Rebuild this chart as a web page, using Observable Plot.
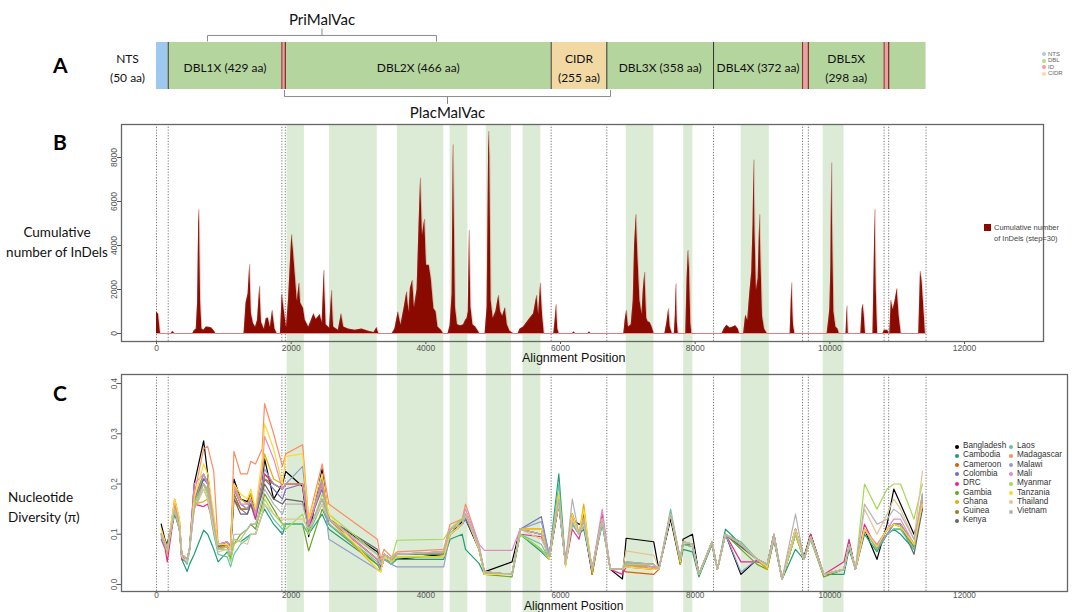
<!DOCTYPE html>
<html><head><meta charset="utf-8">
<script src="https://cdn.jsdelivr.net/npm/d3@7"></script>
<script src="https://cdn.jsdelivr.net/npm/@observablehq/plot@0.6"></script>
<style>
body{margin:0;background:#fff;}
#wrap{position:relative;width:1077px;height:612px;overflow:hidden;background:#fff;font-family:"Liberation Sans",Arial,sans-serif;}
.t{position:absolute;white-space:nowrap;}
</style></head><body><div id="wrap"></div>
<script>
// ---------- Panel A : domain architecture ----------
const domNames = ["NTS","DBL1X","ID","DBL2X","CIDR","DBL3X","DBL4X","ID","DBL5X","ID","DBL"];
const domType  = ["NTS","DBL","ID","DBL","CIDR","DBL","DBL","ID","DBL","ID","DBL"];
const domStart = [0,174,1862,1913,5861,6688,8273,9595,9681,10806,10874];
const domEnd   = [174,1862,1913,5861,6688,8273,9595,9681,10806,10874,11429];
const domLabel = ["NTS\n(50 aa)","DBL1X (429 aa)","","DBL2X (466 aa)","CIDR\n(255 aa)","DBL3X (358 aa)","DBL4X (372 aa)","","DBL5X\n(298 aa)","",""];
const typeNames  = ["NTS","DBL","ID","CIDR"];
const typeColors = ["#9dc8f0","#b5d59f","#e6a3a3","#f2d9a3"];
const legendDotColors = ["#a6cee3","#b2df8a","#fb9a99","#fdd9a0"];
const bracketNames = ["PriMalVac","PlacMalVac"];
const bracketFrom  = [757,1901];
const bracketTo    = [4158,6743];
const bracketSide  = ["top","bottom"];

// ---------- Panel B : cumulative InDels (step=30) ----------
const bPos = [0,30,60,220,240,270,540,560,590,610,629,640,655,675,700,740,780,820,860,880,
1300,1330,1360,1385,1410,1440,1470,1500,1534,1560,1600,1630,1660,1690,1723,1760,1790,1840,1866,1900,
1930,1960,2009,2030,2060,2090,2122,2140,2183,2210,2260,2300,2337,2370,2400,2430,2460,2490,2520,2570,
2603,2630,2700,2746,2780,2850,2950,3050,3150,3230,3273,3300,3500,3540,3590,3630,3680,3718,3750,3770,
3804,3830,3870,3900,3922,3950,3984,4010,4050,4080,4120,4152,4180,4230,4260,4330,4360,4390,4408,4420,
4440,4470,4520,4560,4590,4612,4630,4648,4670,4700,4740,4780,4800,4880,4910,4935,4950,4970,5000,5040,
5083,5110,5140,5180,5210,5250,5300,5370,5400,5450,5500,5550,5600,5650,5675,5705,5735,5760,5900,5920,
5940,5960,5980,6180,6200,6220,6410,6430,6450,6940,6960,6982,7010,7050,7080,7100,7125,7150,7180,7210,
7230,7253,7280,7300,7330,7360,7390,7550,7580,7607,7630,7660,7690,7705,7719,7735,7750,7860,7880,7898,
7915,7935,7950,8400,8430,8470,8520,8560,8600,8640,8660,8720,8750,8780,8810,8840,8860,8874,8890,8910,
8935,8961,8980,9000,9030,9070,9410,9436,9460,9480,9960,9990,10000,10015,10028,10040,10060,10090,10120,10140,
10240,10258,10275,10460,10480,10493,10510,10530,10640,10655,10672,10690,10710,10790,10810,10860,10880,10890,10912,10940,
10970,11000,11030,11060,11320,11346,11370,11400,11420];
const bVal = [980,880,0,0,100,0,0,120,200,1400,5640,5000,1500,200,150,300,280,250,100,0,
0,1400,1800,3150,900,450,300,600,2170,500,200,680,700,300,1060,200,0,0,1800,1000,
300,1500,4500,3900,2700,1500,2300,1400,1140,600,300,600,900,650,750,860,500,2880,400,250,
1970,300,150,900,300,200,150,200,100,50,270,0,0,200,985,400,1200,1900,1000,2050,
2420,1200,2000,5000,7080,4500,5200,3100,3100,2500,1130,985,300,150,0,0,350,1800,8590,6000,
1200,400,350,400,600,680,1000,4700,1200,400,300,100,0,0,1200,9200,8100,1500,700,1000,
1740,1000,800,1170,400,100,0,0,200,300,500,700,900,1740,900,2300,800,0,0,600,
1320,200,0,0,75,0,0,75,0,0,600,1060,300,400,1500,4000,5420,3500,1500,900,
2000,2800,700,530,500,300,0,0,500,1140,300,0,0,800,2270,500,0,0,2500,3790,
3000,500,0,0,200,380,250,300,350,200,0,0,830,600,1800,2800,5000,7900,4500,2000,
2500,5420,3000,800,200,0,0,2320,400,0,0,800,1140,3000,7770,5000,1000,300,200,0,
0,1260,0,0,1100,1330,900,0,0,2500,5650,2000,0,0,150,150,0,0,1515,1100,
1500,2045,800,0,0,2830,2400,1000,0];
const bTicks = [0,2000,4000,6000,8000];

// ---------- shared x axis ----------
const xTicks = [0,2000,4000,6000,8000,10000,12000];
const boundaries = [0,174,1862,1913,5861,6688,8273,9595,9681,10806,10874,11429];
const bandStart = [1940,2570,3577,4361,4898,5443,6977,7830,8683,9902];
const bandEnd   = [2196,3278,4267,4625,5272,5708,7387,7966,9101,10210];

// ---------- Panel C : nucleotide diversity ----------
const countries = ["Bangladesh","Cambodia","Cameroon","Colombia","DRC","Gambia","Ghana","Guinea","Kenya",
                   "Laos","Madagascar","Malawi","Mali","Myanmar","Tanzania","Thailand","Vietnam"];
const cColors = ["#000000","#1b9e77","#d95f02","#7570b3","#e7298a","#66a61e","#e6ab02","#a6761d","#666666",
                 "#66c2a5","#fc8d62","#8da0cb","#e78ac3","#a6d854","#ffd92f","#e5c494","#b3b3b3"];
const cPos = [70,130,160,270,340,375,455,490,560,700,
 760,850,915,1050,1100,1150,1250,1350,1400,1470,
 1570,1605,1740,1870,1920,2170,2260,2460,2560,3280,
 3330,3380,3490,3570,4265,4360,4540,4590,4790,4870,
 5280,5400,5715,5830,5975,6075,6175,6275,6345,6470,
 6620,6740,6920,6975,7385,7460,7635,7780,7820,7960,
 8055,8250,8330,8450,8680,8920,9070,9170,9290,9490,
 9615,9715,9910,10210,10285,10380,10515,10700,10850,10950,
 11050,11250,11375];
const cTicks = [0,0.1,0.2,0.3,0.4];
const piBangladesh = [.12,.087,.08,.15,.12,.06,.05,.07,.2,.286,
 .22,.12,.07,.08,.08,.21,.17,.165,.18,.14,
 .2,.25,.17,.2,.225,.195,.095,.23,.13,.065,
 .04,.06,.05,.05,.06,.1,.125,.13,.07,.025,
 .045,.11,.1,.05,.16,.04,.13,.12,.12,.02,
 .13,.03,.011,.092,.085,.03,.13,.04,.09,.1,
 .02,.08,.03,.1,.02,.05,.04,.1,.01,.11,
 .055,.1,.02,.03,.085,.03,.11,.05,.12,.19,
 .16,.1,.15];
const piCambodia = [.1,.08,.07,.14,.11,.05,.026,.04,.06,.108,
 .1,.07,.045,.065,.05,.09,.085,.095,.1,.1,
 .14,.15,.12,.1,.12,.12,.1,.14,.11,.04,
 .03,.05,.04,.05,.05,.09,.1,.07,.042,.02,
 .02,.1,.065,.05,.22,.04,.12,.1,.11,.03,
 .12,.03,.03,.04,.03,.03,.14,.04,.07,.065,
 .015,.08,.03,.11,.08,.05,.03,.09,.01,.07,
 .05,.09,.02,.02,.07,.03,.1,.065,.1,.11,
 .1,.07,.18];
const piCameroon = [.1,.08,.065,.16,.12,.06,.05,.07,.17,.2,
 .19,.13,.07,.08,.07,.17,.15,.15,.17,.14,
 .19,.22,.2,.19,.2,.2,.12,.2,.13,.05,
 .04,.06,.05,.06,.06,.11,.12,.14,.07,.025,
 .02,.11,.1,.055,.17,.04,.14,.1,.14,.03,
 .13,.03,.03,.025,.02,.03,.14,.045,.085,.08,
 .02,.085,.03,.1,.08,.05,.035,.095,.01,.1,
 .05,.095,.02,.03,.08,.03,.11,.075,.11,.12,
 .115,.08,.16];
const piColombia = [.1,.085,.07,.15,.12,.055,.05,.07,.16,.21,
 .2,.13,.075,.085,.07,.18,.15,.14,.16,.13,
 .19,.21,.19,.17,.19,.2,.12,.19,.12,.04,
 .03,.055,.045,.06,.06,.1,.12,.13,.075,.02,
 .02,.11,.135,.06,.16,.05,.14,.1,.13,.03,
 .13,.03,.03,.04,.04,.03,.14,.05,.085,.08,
 .02,.085,.03,.1,.075,.05,.035,.09,.01,.11,
 .05,.095,.02,.03,.08,.03,.11,.075,.11,.12,
 .12,.08,.16];
const piDRC = [.09,.07,.045,.15,.11,.05,.045,.07,.16,.155,
 .16,.12,.07,.08,.07,.19,.16,.15,.16,.13,
 .2,.22,.2,.19,.2,.2,.11,.21,.13,.05,
 .035,.06,.05,.06,.06,.11,.12,.14,.07,.02,
 .02,.1,.095,.06,.17,.04,.11,.09,.13,.03,
 .14,.03,.02,.035,.03,.03,.14,.05,.08,.075,
 .02,.085,.03,.1,.045,.045,.04,.1,.01,.1,
 .05,.1,.02,.045,.09,.03,.12,.07,.1,.12,
 .12,.075,.16];
const piGambia = [.1,.08,.065,.15,.11,.06,.05,.07,.16,.2,
 .18,.11,.07,.075,.05,.08,.1,.11,.12,.11,
 .16,.18,.15,.12,.12,.12,.067,.15,.12,.04,
 .03,.05,.045,.06,.06,.11,.13,.14,.07,.02,
 .015,.1,.07,.05,.16,.04,.13,.1,.12,.03,
 .13,.03,.03,.045,.04,.03,.14,.05,.08,.08,
 .02,.08,.03,.1,.07,.04,.03,.09,.01,.1,
 .05,.09,.015,.03,.08,.03,.11,.07,.1,.11,
 .11,.075,.17];
const piGhana = [.1,.075,.065,.17,.13,.06,.05,.07,.16,.165,
 .17,.12,.07,.08,.07,.2,.17,.16,.18,.15,
 .22,.26,.21,.2,.2,.2,.12,.2,.13,.03,
 .025,.06,.05,.055,.055,.1,.12,.14,.07,.02,
 .02,.11,.11,.05,.18,.04,.14,.1,.16,.02,
 .13,.03,.03,.04,.03,.03,.14,.04,.085,.08,
 .02,.085,.03,.1,.08,.05,.03,.095,.01,.11,
 .05,.095,.02,.03,.08,.03,.11,.07,.11,.12,
 .115,.08,.16];
const piGuinea = [.1,.08,.07,.16,.12,.06,.05,.07,.17,.22,
 .2,.13,.08,.085,.075,.18,.15,.15,.16,.14,
 .19,.21,.2,.19,.2,.2,.12,.2,.13,.05,
 .04,.06,.05,.06,.065,.1,.12,.14,.07,.025,
 .02,.11,.11,.055,.17,.04,.14,.1,.13,.03,
 .13,.03,.03,.04,.035,.03,.14,.045,.085,.08,
 .02,.085,.03,.1,.08,.05,.04,.1,.01,.11,
 .05,.095,.02,.03,.08,.03,.11,.075,.11,.12,
 .12,.08,.17];
const piKenya = [.1,.08,.07,.15,.12,.06,.05,.07,.17,.21,
 .21,.13,.075,.08,.07,.17,.14,.14,.16,.14,
 .18,.2,.17,.16,.17,.165,.11,.17,.13,.07,
 .04,.06,.05,.06,.065,.11,.12,.14,.075,.025,
 .02,.11,.1,.055,.16,.04,.13,.1,.12,.03,
 .13,.03,.03,.04,.04,.03,.14,.045,.085,.08,
 .02,.085,.03,.1,.075,.05,.04,.095,.01,.11,
 .05,.095,.02,.03,.08,.03,.11,.075,.11,.12,
 .12,.06,.15];
const piLaos = [.095,.075,.065,.15,.11,.055,.04,.065,.15,.19,
 .17,.1,.06,.055,.035,.06,.08,.09,.1,.1,
 .14,.16,.13,.11,.12,.12,.1,.16,.12,.045,
 .03,.05,.04,.055,.055,.1,.12,.14,.07,.02,
 .02,.1,.08,.05,.2,.04,.12,.1,.12,.03,
 .12,.03,.03,.04,.035,.03,.15,.05,.08,.075,
 .02,.08,.03,.1,.085,.05,.035,.09,.01,.1,
 .05,.09,.02,.03,.08,.03,.11,.07,.1,.11,
 .11,.07,.17];
const piMadagascar = [.1,.08,.06,.16,.12,.06,.05,.07,.18,.27,
 .275,.225,.08,.085,.07,.265,.22,.22,.245,.24,
 .27,.36,.3,.235,.26,.278,.13,.24,.16,.09,
 .05,.07,.055,.065,.07,.12,.13,.16,.08,.025,
 .02,.11,.1,.055,.17,.04,.14,.1,.13,.03,
 .13,.03,.03,.04,.035,.03,.14,.05,.085,.08,
 .02,.085,.03,.1,.08,.05,.04,.095,.01,.11,
 .05,.095,.02,.03,.08,.03,.11,.075,.11,.12,
 .12,.08,.17];
const piMalawi = [.1,.08,.07,.15,.12,.06,.05,.07,.16,.22,
 .2,.13,.08,.085,.075,.19,.16,.15,.17,.14,
 .2,.23,.2,.19,.2,.235,.12,.21,.09,.03,
 .03,.05,.04,.035,.035,.1,.12,.14,.07,.02,
 .02,.11,.125,.06,.17,.04,.13,.1,.13,.03,
 .13,.03,.03,.04,.04,.03,.14,.05,.085,.08,
 .02,.085,.03,.1,.025,.05,.04,.09,.01,.11,
 .05,.095,.02,.03,.08,.03,.11,.075,.1,.12,
 .12,.08,.16];
const piMali = [.1,.08,.065,.17,.13,.06,.05,.07,.2,.22,
 .2,.13,.08,.085,.07,.2,.16,.16,.17,.14,
 .23,.295,.25,.19,.2,.2,.12,.2,.13,.05,
 .04,.06,.05,.06,.065,.11,.13,.15,.08,.068,
 .068,.11,.1,.055,.17,.04,.13,.1,.13,.03,
 .15,.03,.03,.04,.035,.03,.14,.05,.085,.08,
 .02,.085,.03,.1,.08,.05,.04,.095,.01,.11,
 .05,.095,.02,.03,.08,.03,.11,.08,.11,.13,
 .13,.08,.17];
const piMyanmar = [.1,.08,.065,.15,.11,.06,.05,.07,.16,.2,
 .18,.11,.07,.07,.045,.08,.09,.11,.12,.12,
 .15,.17,.14,.12,.11,.14,.1,.18,.14,.06,
 .04,.06,.05,.088,.09,.11,.13,.14,.075,.02,
 .02,.1,.07,.05,.17,.04,.13,.1,.13,.03,
 .13,.03,.03,.04,.04,.03,.14,.05,.085,.08,
 .02,.085,.03,.1,.08,.05,.04,.095,.01,.1,
 .05,.09,.02,.03,.08,.03,.2,.15,.19,.2,
 .2,.13,.2];
const piTanzania = [.11,.085,.07,.17,.13,.06,.05,.07,.17,.24,
 .22,.14,.08,.08,.07,.2,.18,.17,.19,.15,
 .25,.32,.27,.2,.255,.26,.13,.22,.14,.03,
 .025,.055,.045,.055,.055,.1,.12,.14,.07,.02,
 .02,.11,.11,.05,.18,.035,.14,.1,.15,.03,
 .13,.03,.03,.035,.03,.03,.14,.045,.085,.08,
 .02,.085,.03,.1,.08,.05,.035,.1,.01,.11,
 .05,.095,.02,.03,.08,.03,.11,.075,.11,.12,
 .115,.08,.16];
const piThailand = [.1,.08,.07,.15,.11,.055,.045,.07,.15,.19,
 .17,.11,.065,.07,.06,.09,.085,.08,.1,.1,
 .14,.16,.14,.13,.13,.13,.11,.16,.13,.06,
 .04,.06,.05,.06,.065,.11,.12,.14,.075,.025,
 .02,.11,.09,.055,.16,.04,.13,.1,.12,.03,
 .13,.03,.03,.067,.058,.03,.14,.05,.085,.08,
 .02,.085,.03,.1,.08,.05,.04,.095,.01,.11,
 .05,.095,.02,.03,.08,.03,.15,.1,.14,.17,
 .15,.09,.225];
const piVietnam = [.1,.08,.07,.15,.11,.06,.05,.07,.15,.2,
 .19,.12,.07,.075,.06,.1,.1,.11,.12,.12,
 .17,.19,.16,.14,.16,.16,.11,.17,.13,.06,
 .04,.06,.05,.06,.065,.11,.12,.14,.075,.025,
 .02,.11,.1,.055,.17,.045,.17,.1,.13,.03,
 .13,.03,.03,.045,.04,.03,.14,.05,.085,.08,
 .02,.085,.03,.1,.08,.05,.04,.1,.01,.14,
 .05,.095,.02,.03,.08,.03,.16,.12,.13,.15,
 .14,.09,.18];
const piSeries = [piBangladesh,piCambodia,piCameroon,piColombia,piDRC,piGambia,piGhana,piGuinea,piKenya,
 piLaos,piMadagascar,piMalawi,piMali,piMyanmar,piTanzania,piThailand,piVietnam];

// ================= drawing =================
const wrap = document.getElementById("wrap");
const PX0 = 156, PXPER = 808/12000;            // pixel of position 0, px per alignment unit
const dom = (l, r) => [(l - PX0) / PXPER, (r - PX0) / PXPER];
const LEFT = 121, RIGHT_B = 1043, RIGHT_C = 1067;
function put(node, top, z) {
  node.style.position = "absolute"; node.style.left = "0px"; node.style.top = top + "px";
  node.style.zIndex = z; wrap.appendChild(node); return node;
}
function txt(s, x, y, css) {
  const d = document.createElement("div"); d.className = "t"; d.textContent = s;
  d.style.left = x + "px"; d.style.top = y + "px"; Object.assign(d.style, css || {});
  d.style.zIndex = 5; wrap.appendChild(d); return d;
}
const fmt = d => String(d);
const transparent = {background: "transparent", overflow: "visible"};

// green bands spanning panels B and C
const bands = bandStart.map((s, i) => ({s, e: bandEnd[i]}));
put(Plot.plot({
  width: 1077, height: 488, marginLeft: LEFT, marginRight: 1077 - RIGHT_B, marginTop: 0, marginBottom: 0,
  style: transparent,
  x: {domain: dom(LEFT, RIGHT_B), axis: null},
  y: {domain: [0, 1], axis: null},
  marks: [Plot.rect(bands, {x1: "s", x2: "e", y1: () => 0, y2: () => 1, fill: "#dcebd5"})]
}), 124, 1);

// Panel A
const doms = domNames.map((n, i) => ({n, type: domType[i], s: domStart[i], e: domEnd[i], label: domLabel[i], mid: (domStart[i] + domEnd[i]) / 2}));
const brackets = bracketNames.map((n, i) => ({n, a: bracketFrom[i], b: bracketTo[i], m: (bracketFrom[i] + bracketTo[i]) / 2, side: bracketSide[i]}));
const segLines = [];
doms.forEach((d, i) => { if (i > 0) segLines.push({x: d.s, id: d.type === "ID" || doms[i-1].type === "ID"}); });
doms.forEach((d) => { if (d.type === "ID") segLines.push({x: d.e, id: true}); });
const bl = [];
brackets.forEach(b => {
  const top = b.side === "top";
  const yh = top ? 1.15 : -0.15, ye = top ? 1.03 : -0.02, yt = top ? 1.29 : -0.3;
  bl.push([{x: b.a, y: ye}, {x: b.a, y: yh}, {x: b.b, y: yh}, {x: b.b, y: ye}]);
  bl.push([{x: b.m, y: yh}, {x: b.m, y: yt}]);
});
const plotA = Plot.plot({
  width: 1077, height: 130, marginLeft: LEFT, marginRight: 1077 - RIGHT_B, marginTop: 42, marginBottom: 41,
  style: {...transparent, fontFamily: "Lato, 'Open Sans', sans-serif"},
  x: {domain: dom(LEFT, RIGHT_B), axis: null},
  y: {domain: [0, 1], axis: null},
  color: {domain: typeNames, range: typeColors},
  marks: [
    Plot.rect(doms, {x1: "s", x2: "e", y1: () => 0, y2: () => 1, fill: "type"}),
    Plot.ruleX(segLines, {x: "x", y1: () => 0, y2: () => 1, stroke: d => d.id ? "#8c2a2a" : "#333", strokeWidth: 1}),
    Plot.text(doms.filter(d => d.label && d.type !== "NTS"), {x: "mid", y: () => 0.5, text: "label", fontSize: 12, fill: "#111", lineHeight: 1.6}),
    Plot.text(doms.filter(d => d.type === "NTS"), {x: "s", y: () => 0.5, text: "label", fontSize: 12, fill: "#111", lineHeight: 1.6, textAnchor: "middle", dx: -29}),
    ...bl.map(pts => Plot.line(pts, {x: "x", y: "y", stroke: "#8a8a8a", strokeWidth: 1})),
    Plot.text(brackets, {x: "m", y: d => d.side === "top" ? 1.47 : -0.51, text: "n", fontSize: 15, fill: "#111"})
  ]
});
put(plotA, 0, 3);

// legend of panel A
typeNames.forEach((n, i) => {
  txt("", 1042, 52 + i * 6.6, {width: "4px", height: "4px", borderRadius: "50%", background: legendDotColors[i]});
  txt(n, 1048, 49.5 + i * 6.6, {fontSize: "6px", color: "#666", lineHeight: "8px"});
});

// Panel B
const bData = bPos.map((x, i) => ({x, y: bVal[i]}));
const axisStyle = {...transparent, fontFamily: "'Liberation Sans', Arial, sans-serif", fontSize: "8.5px", color: "#555"};
const plotB = Plot.plot({
  width: 1077, height: 270, marginLeft: LEFT, marginRight: 1077 - RIGHT_B, marginTop: 24, marginBottom: 29,
  style: axisStyle,
  x: {domain: dom(LEFT, RIGHT_B), ticks: xTicks, tickFormat: fmt, label: null, tickSize: 3, tickPadding: 0},
  y: {domain: [-364, 9500], ticks: bTicks, tickFormat: fmt, tickRotate: -90, label: null, tickSize: 4, tickPadding: 1},
  marks: [
    Plot.ruleX(boundaries, {stroke: "#555", strokeDasharray: "1.2,1.6", strokeWidth: 0.8}),
    Plot.ruleY([0], {x1: () => 0, x2: () => 11429, stroke: "#e59a9a", strokeWidth: 1.2}),
    Plot.areaY(bData, {x: "x", y: "y", fill: "#8b0a00"}),
    Plot.lineY(bData, {x: "x", y: "y", stroke: "#b64a40", strokeOpacity: 0.35, strokeWidth: 0.8}),
    Plot.frame({stroke: "#666", strokeWidth: 1.3})
  ]
});
put(plotB, 100, 3);

// Panel C
const cData = [];
countries.forEach((c, k) => piSeries[k].forEach((v, i) => cData.push({country: c, x: cPos[i], y: v})));
const plotC = Plot.plot({
  width: 1077, height: 262, marginLeft: LEFT, marginRight: 1077 - RIGHT_C, marginTop: 24, marginBottom: 21,
  style: {...axisStyle, fontSize: "8.2px"},
  x: {domain: dom(LEFT, RIGHT_C), ticks: xTicks, tickFormat: fmt, label: null, tickSize: 1, tickPadding: 0},
  y: {domain: [-0.014, 0.418], ticks: cTicks, tickFormat: d => d.toFixed(1), tickRotate: -90, label: null, tickSize: 4, tickPadding: 1},
  color: {domain: countries, range: cColors},
  marks: [
    Plot.ruleX(boundaries, {stroke: "#555", strokeDasharray: "1.2,1.6", strokeWidth: 0.8}),
    Plot.line(cData, {x: "x", y: "y", z: "country", stroke: "country", strokeWidth: 1.2}),
    Plot.frame({stroke: "#666", strokeWidth: 1.3})
  ]
});
put(plotC, 350, 3);

// texts
const big = {fontFamily: "Lato, 'Open Sans', sans-serif", fontWeight: "700", fontSize: "21px", color: "#000"};
txt("A", 53, 52, big); txt("B", 53, 129, big); txt("C", 53, 380, big);
const yt = {fontFamily: "Lato, 'Open Sans', sans-serif", fontSize: "13.5px", color: "#111", lineHeight: "20px"};
txt("Cumulative\nnumber of InDels", 2, 222, {...yt, whiteSpace: "pre", textAlign: "center", width: "110px"});
txt("Nucleotide\nDiversity (π)", 8, 487, {...yt, whiteSpace: "pre", textAlign: "left"});
const ax = {fontFamily: "'Liberation Sans', Arial, sans-serif", fontSize: "12.5px", color: "#111", lineHeight: "12px"};
txt("Alignment Position", 522, 352, ax);
txt("Alignment Position", 524, 600.5, {...ax, fontSize: "12px", lineHeight: "11px"});

// legend of panel B
txt("", 984, 224, {width: "7px", height: "7px", background: "#8b0a00"});
txt("Cumulative number\nof InDels (step=30)", 994, 222, {fontSize: "7.5px", color: "#444", whiteSpace: "pre", lineHeight: "11px"});

// legend of panel C
countries.forEach((c, i) => {
  const col = i < 9 ? 0 : 1, row = i < 9 ? i : i - 9;
  const x = col ? 1011 : 957, y = 442 + row * 9.3;
  txt("", x - 2, y + 2.5, {width: "4px", height: "4px", borderRadius: "50%", background: cColors[i]});
  txt(c, x + 6, y - 1, {fontSize: "8.2px", color: "#333", lineHeight: "10px"});
});
</script></body></html>
